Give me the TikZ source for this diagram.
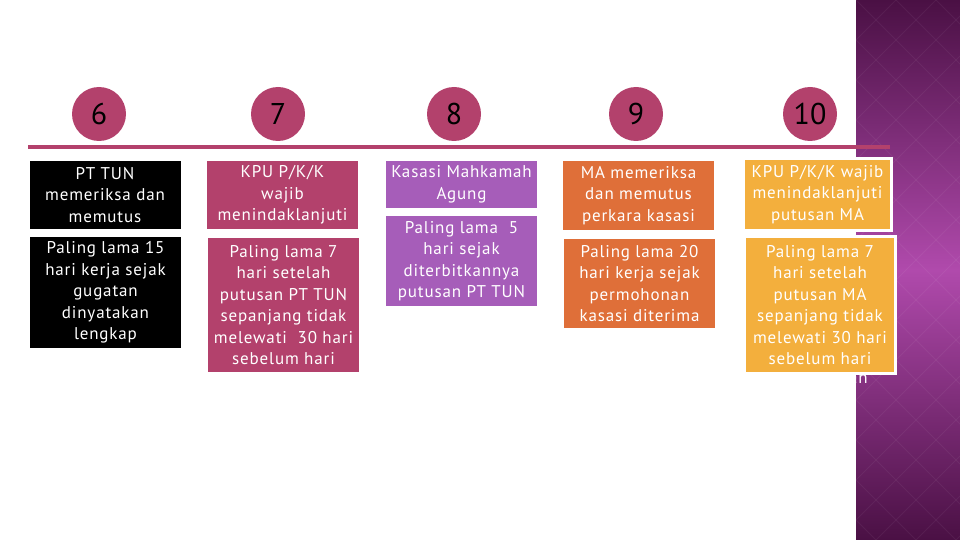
\documentclass[tikz,border=0pt]{standalone}
\usepackage{fontspec}
\setmainfont{PT Sans}
\newfontfamily\boxfont[LetterSpace=5]{PT Sans}
\definecolor{rose}{HTML}{B3416C}
\definecolor{plum}{HTML}{A65DB9}
\definecolor{orng}{HTML}{DF6F39}
\definecolor{gold}{HTML}{F3AF3D}
\definecolor{pdark}{HTML}{4A1044}
\definecolor{pmid}{HTML}{B04AAC}
\begin{document}
\begin{tikzpicture}[x=1pt,y=-1pt,
  box/.style={inner sep=0pt, minimum width=151pt},
  txt/.style={text=white, align=center, font=\boxfont\fontsize{17}{21.5}\selectfont, inner sep=0pt},
  num/.style={circle, fill=rose, minimum size=54pt, inner sep=0pt, font=\fontsize{30}{30}\selectfont},
  timeline/.style={rose, line width=4pt}]
\useasboundingbox (0,0) rectangle (960,540);
% side panel
\shade[top color=pdark, bottom color=pdark, middle color=pmid] (856,0) rectangle (960,540);
\begin{scope}
\clip (856,0) rectangle (960,540);
\foreach \k in {-600,-560,...,1000}{
  \draw[white, opacity=0.05, line width=1pt] (856,\k) -- ++(600,600);
  \draw[white, opacity=0.05, line width=1pt] (856,\k) -- ++(600,-600);
}
\end{scope}
% timeline
\coordinate (tl) at (28,147.5);
\coordinate (tr) at (890,147.5);
\draw[timeline] (tl) -- (tr);
% circles
\node[num] (c6) at (99,114) {6};
\node[num] (c7) at (278,114) {7};
\node[num] (c8) at (454,114) {8};
\node[num] (c9) at (636,114) {9};
\node[num] (c10) at (810,114) {10};
% column 6
\node[box, fill=black, minimum height=68pt] (b6a) at (105,195) {};
\node[txt] (t6a) at (b6a) {PT TUN\\memeriksa dan\\memutus};
\node[box, fill=black, minimum height=111pt] (b6b) at (105.5,292.5) {};
\node[txt] (t6b) at (b6b) {Paling lama 15\\hari kerja sejak\\gugatan\\dinyatakan\\lengkap};
% column 7
\node[box, fill=rose, minimum height=68pt] (b7a) at (282.5,195) {};
\node[txt] (t7a) at (b7a) {KPU P/K/K\\wajib\\menindaklanjuti};
\node[box, fill=rose, minimum height=134pt] (b7b) at (283.5,305) {};
\node[txt] (t7b) at (b7b) {Paling lama 7\\hari setelah\\putusan PT TUN\\sepanjang tidak\\melewati\ \ 30 hari\\sebelum hari};
% column 8
\node[box, fill=plum, minimum height=47pt] (b8a) at (461.5,184.5) {};
\node[txt] (t8a) at (b8a) {Kasasi Mahkamah\\Agung};
\node[box, fill=plum, minimum height=90pt] (b8b) at (461.5,261) {};
\node[txt] (t8b) at (b8b) {Paling lama\ \ 5\\hari sejak\\diterbitkannya\\putusan PT TUN};
% column 9
\node[box, fill=orng, minimum height=69pt] (b9a) at (638.5,195.5) {};
\node[txt] (t9a) at (b9a) {MA memeriksa\\dan memutus\\perkara kasasi};
\node[box, fill=orng, minimum height=89pt] (b9b) at (639.5,283.5) {};
\node[txt] (t9b) at (b9b) {Paling lama 20\\hari kerja sejak\\permohonan\\kasasi diterima};
% column 10
\node[box, fill=gold, draw=white, line width=3pt, minimum width=148pt, minimum height=72pt] (b10a) at (817.5,194.5) {};
\node[txt] (t10a) at (b10a) {KPU P/K/K wajib\\menindaklanjuti\\putusan MA};
\node[box, fill=gold, draw=white, line width=3pt, minimum width=151pt, minimum height=137pt] (b10b) at (820,305) {};
\node[txt] (t10b) at (b10b) {Paling lama 7\\hari setelah\\putusan MA\\sepanjang tidak\\melewati 30 hari\\sebelum hari};
\begin{scope}
\clip (856,360) rectangle (960,400);
\node[txt] (t10c) at (818,380) {pemungutan};
\end{scope}
\end{tikzpicture}
\end{document}
